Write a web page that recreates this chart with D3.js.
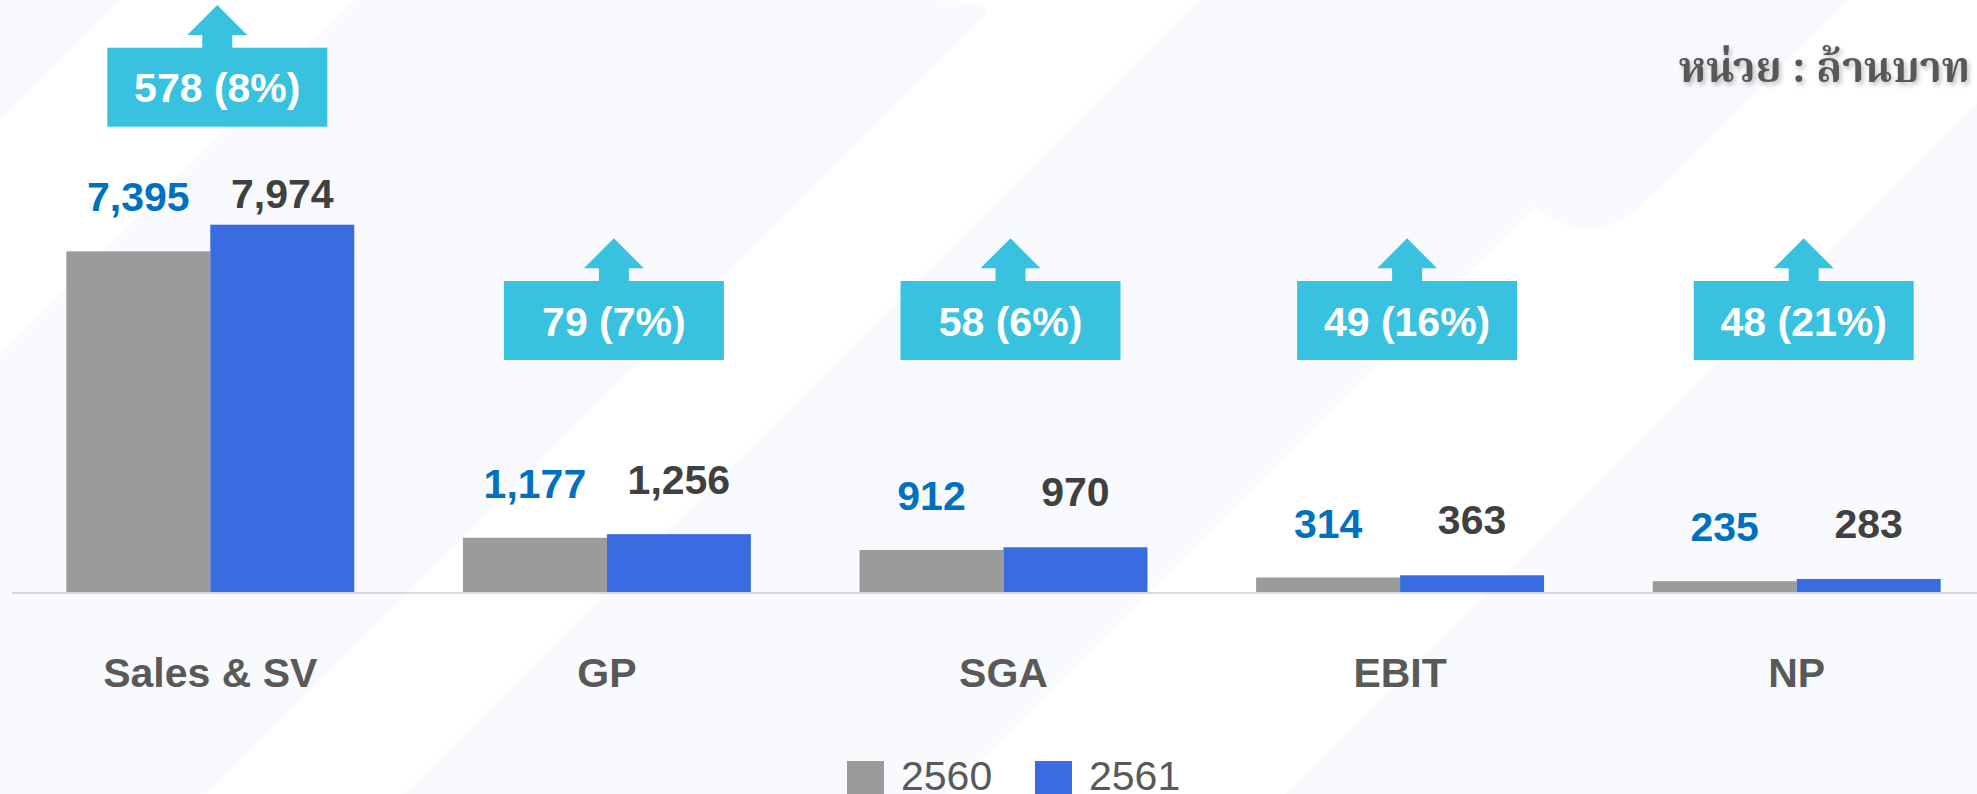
<!DOCTYPE html>
<html>
<head>
<meta charset="utf-8">
<script src="https://cdn.jsdelivr.net/npm/d3@7"></script>
<style>
  html, body { margin: 0; padding: 0; background: #ffffff; overflow: hidden; }
  svg { display: block; font-family: "Liberation Sans", Arial, sans-serif; }
</style>
</head>
<body>
<div id="chart"></div>
<script>
const WIDTH = 1977, HEIGHT = 794;

// chart data
const categories = ["Sales & SV", "GP", "SGA", "EBIT", "NP"];
const years = ["2560", "2561"];
const values2560 = [7395, 1177, 912, 314, 235];
const values2561 = [7974, 1256, 970, 363, 283];
const changeValues = [578, 79, 58, 49, 48];
const changePct = [8, 7, 6, 16, 21];
const unitLabel = "หน่วย : ล้านบาท";

const colors = {"2560": "#9b9b9b", "2561": "#386ce0"};
const labelColors = {"2560": "#0070c0", "2561": "#404040"};

let svg = d3.select("#chart")
    .append("svg")
    .attr("width", WIDTH)
    .attr("height", HEIGHT);

// faint diagonal background shapes
let bg = svg.append("g");
bg.append("rect").attr("width", WIDTH).attr("height", HEIGHT).attr("fill", "#ffffff");
[
    "M0,0 L121,0 L0,121 Z",
    "M354,0 L925,0 Q1000,0 985,16 L207,794 L0,794 L0,354 Z",
    "M1197,0 L1848,0 L1650,198 Q1595,255 1535,207 L948,794 L403,794 Z",
    "M1286,794 L1977,794 L1977,103 Z"
].forEach(d => bg.append("path").attr("d", d).attr("fill", "#f9fafd"));

let rows = categories.map((c, i) => ({
    category: c,
    "2560": values2560[i],
    "2561": values2561[i],
    change: changeValues[i],
    pct: changePct[i]
}));

let x0 = d3.scaleBand()
    .domain(categories)
    .range([12, 1995])
    .paddingInner(0.274)
    .paddingOuter(0.137);

let x1 = d3.scaleBand()
    .domain(years)
    .range([0, x0.bandwidth()]);

let y = d3.scaleLinear()
    .domain([0, 8000])
    .range([592, 592 - 368.5]);

// baseline
svg.append("line")
    .attr("x1", x0.range()[0])
    .attr("x2", x0.range()[1])
    .attr("y1", y(0) + 1)
    .attr("y2", y(0) + 1)
    .attr("stroke", "#d9d9d9")
    .attr("stroke-width", 2);

let groups = svg.selectAll(".group")
    .data(rows)
    .enter()
    .append("g")
    .attr("class", "group")
    .attr("transform", d => `translate(${x0(d.category)}, 0)`);

groups.selectAll("rect")
    .data(d => years.map(k => ({key: k, value: d[k], base: d["2560"]})))
    .enter()
    .append("rect")
    .attr("x", d => x1(d.key))
    .attr("y", d => y(d.value))
    .attr("width", x1.bandwidth())
    .attr("height", d => y(0) - y(d.value))
    .attr("fill", d => colors[d.key]);

// value labels sit above the 2560 bar, 2561 one a bit higher
groups.selectAll(".val")
    .data(d => years.map(k => ({key: k, value: d[k], base: d["2560"]})))
    .enter()
    .append("text")
    .attr("class", "val")
    .attr("x", d => x1(d.key) + x1.bandwidth() / 2)
    .attr("y", d => y(d.base) - (d.key == "2560" ? 40 : 43.5))
    .style("text-anchor", "middle")
    .style("font-size", "41px")
    .style("font-weight", "bold")
    .attr("fill", d => labelColors[d.key])
    .text(d => d3.format(",")(d.value));

// category names
svg.selectAll(".cat")
    .data(categories)
    .enter()
    .append("text")
    .attr("class", "cat")
    .attr("x", d => x0(d) + x0.bandwidth() / 2)
    .attr("y", 687)
    .style("text-anchor", "middle")
    .style("font-size", "41px")
    .style("font-weight", "bold")
    .attr("fill", "#595959")
    .text(d => d);

// change call-outs with up arrow
const boxW = 220, boxH = 79;
let callouts = svg.selectAll(".callout")
    .data(rows)
    .enter()
    .append("g")
    .attr("class", "callout")
    .attr("transform", d => {
        let cx = x0(d.category) + x0.bandwidth() / 2 + 7;
        let top = Math.min(281, y(Math.max(d["2560"], d["2561"])) - 177);
        return `translate(${cx}, ${top})`;
    });

callouts.append("path")
    .attr("d", () => {
        let hw = boxH * 0.38, hh = boxH * 0.38, sw = boxH * 0.19, sh = boxH * 0.16;
        return `M${-sw},1 L${-sw},${-sh} L${-hw},${-sh} L0,${-sh - hh} L${hw},${-sh} L${sw},${-sh} L${sw},1 Z`;
    })
    .attr("fill", "#38c2e0");

callouts.append("rect")
    .attr("x", -boxW / 2)
    .attr("y", 0)
    .attr("width", boxW)
    .attr("height", boxH)
    .attr("fill", "#38c2e0");

callouts.append("text")
    .attr("x", 0)
    .attr("y", boxH / 2 + 15)
    .style("text-anchor", "middle")
    .style("font-size", "41px")
    .style("font-weight", "bold")
    .attr("fill", "#ffffff")
    .text(d => `${d.change} (${d.pct}%)`);

// legend (cut by the bottom edge, as in the original slide)
let legend = svg.append("g");
let legendX = [847, 1035];
years.forEach((k, i) => {
    legend.append("rect")
        .attr("x", legendX[i])
        .attr("y", 761)
        .attr("width", 37)
        .attr("height", 37)
        .attr("fill", colors[k]);
    legend.append("text")
        .attr("x", legendX[i] + 54)
        .attr("y", 790)
        .style("font-size", "41px")
        .attr("fill", "#595959")
        .text(k);
});

// unit label, top right
let defs = svg.append("defs");
defs.append("filter")
    .attr("id", "shadow")
    .attr("x", "-10%").attr("y", "-30%")
    .attr("width", "120%").attr("height", "160%")
    .append("feDropShadow")
    .attr("dx", 2).attr("dy", 3)
    .attr("stdDeviation", 2.5)
    .attr("flood-color", "#000000")
    .attr("flood-opacity", 0.25);

svg.append("text")
    .attr("x", 1970)
    .attr("y", 82)
    .style("text-anchor", "end")
    .style("font-family", "'Noto Serif Thai', 'Noto Sans Thai', 'Tlwg Typo', Garuda, Loma, 'DejaVu Serif', serif")
    .style("font-size", "42px")
    .style("font-weight", "bold")
    .attr("fill", "#595959")
    .attr("filter", "url(#shadow)")
    .text(unitLabel);
</script>
</body>
</html>
